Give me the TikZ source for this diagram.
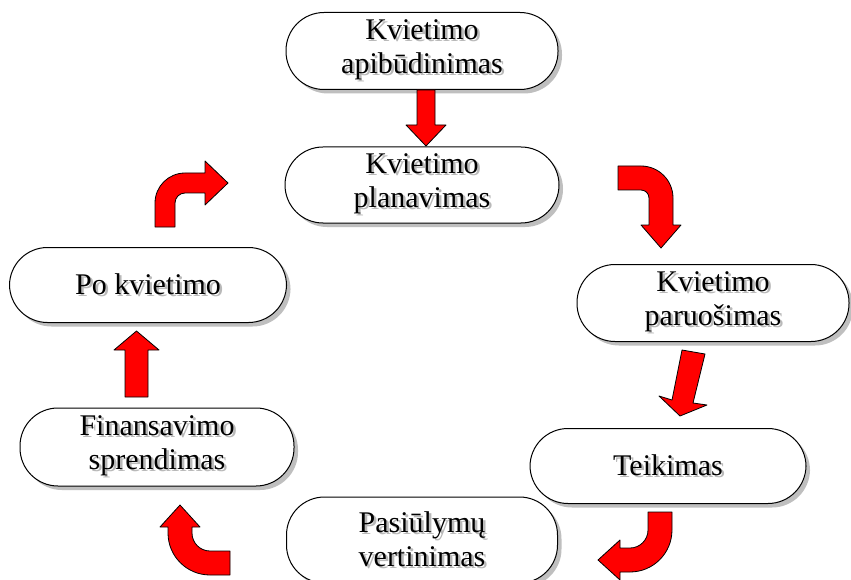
\documentclass[tikz,border=0pt]{standalone}
\usepackage{fontspec}
\setmainfont{Liberation Serif}
\usetikzlibrary{shadows}
\newcommand\shtxt[1]{\leavevmode\rlap{\hspace{2.5pt}\raisebox{-2.5pt}{\textcolor{gray!55}{#1}}}#1}
\tikzset{
  stage/.style={draw=black, line width=1pt, fill=white, rounded corners=38pt,
    minimum height=76pt, inner sep=0pt, align=center,
    font=\fontsize{30}{34}\selectfont,
    drop shadow={shadow xshift=4pt, shadow yshift=-4pt, fill=gray!50, opacity=1}},
  blk/.style={fill=red, draw=black, line width=0.8pt, line join=round}
}
\begin{document}
\begin{tikzpicture}[x=1pt, y=-1pt]
\useasboundingbox[fill=white] (0,0) rectangle (851,580);
% nodes
\node[stage, minimum width=272pt, minimum height=77pt] (n1) at (422,51) {\shtxt{Kvietimo}\\\shtxt{apibūdinimas}};
\node[stage, minimum width=274pt] (n2) at (422,185) {\shtxt{Kvietimo}\\\shtxt{planavimas}};
\node[stage, minimum width=272pt, minimum height=77pt] (n4) at (713,303) {\shtxt{Kvietimo}\\\shtxt{paruošimas}};
\node[stage, minimum width=276pt, minimum height=75pt] (n5) at (668,466) {\shtxt{Teikimas}};
\node[stage, minimum width=271pt, minimum height=86pt] (n6) at (422,540) {\shtxt{Pasiūlymų}\\\shtxt{vertinimas}};
\node[stage, minimum width=274pt, minimum height=78pt] (n7) at (157,447) {\shtxt{Finansavimo}\\\shtxt{sprendimas}};
\node[stage, minimum width=277pt, minimum height=75pt] (n3) at (148,285) {\shtxt{Po kvietimo}};
% arrows
% n1 -> n2
\draw[blk] (417,90) -- (435,90) -- (435,125) -- (446,125) -- (426,146) -- (406,125) -- (417,125) -- cycle;
% n2 -> n4
\draw[blk] (618,166) -- (641,166) arc (-90:0:32) -- (673,225) -- (681,225) -- (661,248) -- (641,225) -- (649,225) -- (649,198) arc (0:-90:8) -- (618,190) -- cycle;
% n4 -> n5
\draw[blk] (682,350) -- (705,354) -- (693,403) -- (707,405) -- (680,416) -- (659,396) -- (672,400) -- cycle;
% n5 -> n6
\draw[blk] (648,512) -- (672,512) -- (672,530) arc (0:90:42) -- (620,572) -- (620,580) -- (598,560) -- (620,540) -- (620,548) -- (630,548) arc (90:0:18) -- cycle;
% n6 -> n7
\draw[blk] (230,551) -- (230,575) -- (210,575) arc (90:180:42) -- (168,527) -- (160,527) -- (180,505) -- (200,527) -- (192,527) -- (192,533) arc (180:90:18) -- cycle;
% n7 -> n3
\draw[blk] (125,397) -- (125,350) -- (114,350) -- (136.5,331) -- (159,350) -- (148,350) -- (148,397) -- cycle;
% n3 -> n2
\draw[blk] (155,227) -- (155,203) arc (180:270:30) -- (205,173) -- (205,161) -- (228,183) -- (205,205) -- (205,193) -- (185,193) arc (270:180:10) -- (175,227) -- cycle;
\end{tikzpicture}
\end{document}
